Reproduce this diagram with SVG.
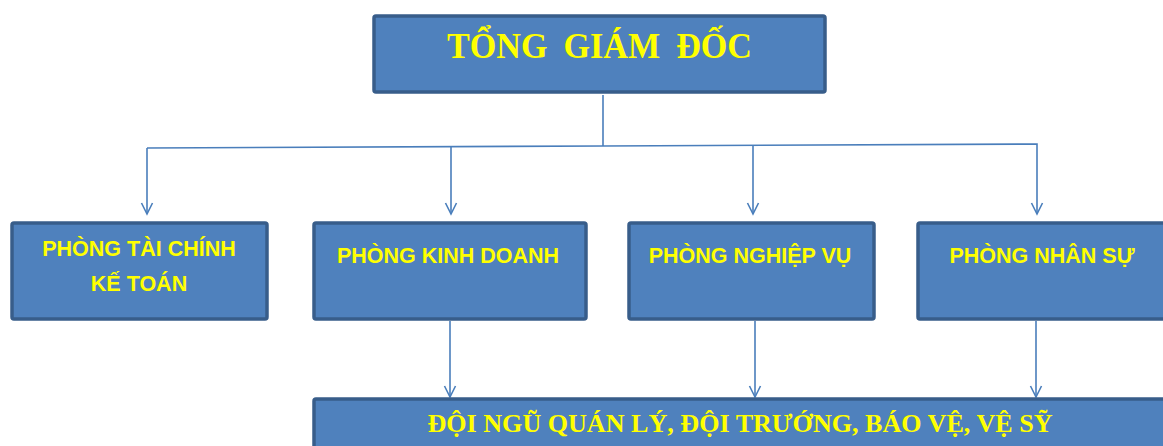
<svg xmlns="http://www.w3.org/2000/svg" width="1163" height="446" viewBox="0 0 1163 446">
<defs>
<style>
.box{fill:#4f81bd;stroke:#385d8a;stroke-width:3.5}
.lbl{fill:#ffff00;font-family:"Liberation Sans",Arial,sans-serif;font-weight:bold;font-size:21.5px;text-anchor:middle}
.ttl{fill:#ffff00;font-family:"Liberation Serif","Times New Roman",serif;font-weight:bold;text-anchor:middle}
.conn{fill:none;stroke:#4a7ebb;stroke-width:1.6}
</style>
<marker id="arr" markerWidth="14" markerHeight="14" refX="12" refY="7" orient="auto" markerUnits="userSpaceOnUse">
<path d="M1,1.5 L12,7 L1,12.5" fill="none" stroke="#4a7ebb" stroke-width="1.6"/>
</marker>
</defs>
<rect width="1163" height="446" fill="#ffffff"/>
<g id="connectors">
<line class="conn" x1="603" y1="95" x2="603" y2="146"/>
<polyline class="conn" points="147,148 603,146 1037,144 1037,214" marker-end="url(#arr)"/>
<line class="conn" x1="147" y1="148" x2="147" y2="214" marker-end="url(#arr)"/>
<line class="conn" x1="451" y1="147" x2="451" y2="214" marker-end="url(#arr)"/>
<line class="conn" x1="753" y1="146" x2="753" y2="214" marker-end="url(#arr)"/>
<line class="conn" x1="450" y1="321" x2="450" y2="397" marker-end="url(#arr)"/>
<line class="conn" x1="755" y1="321" x2="755" y2="397" marker-end="url(#arr)"/>
<line class="conn" x1="1036" y1="321" x2="1036" y2="397" marker-end="url(#arr)"/>
</g>
<g id="node-tgd">
<rect class="box" x="374" y="16" width="451" height="76" rx="2"/>
<text class="ttl" x="599.5" y="58" font-size="36" word-spacing="8" textLength="305" lengthAdjust="spacingAndGlyphs">TỔNG GIÁM ĐỐC</text>
</g>
<g id="node-taichinh">
<rect class="box" x="12" y="223" width="255" height="96" rx="2"/>
<text class="lbl" x="139" y="256">PHÒNG TÀI CHÍNH</text>
<text class="lbl" x="139" y="291">KẾ TOÁN</text>
</g>
<g id="node-kinhdoanh">
<rect class="box" x="314" y="223" width="272" height="96" rx="2"/>
<text class="lbl" x="448" y="263">PHÒNG KINH DOANH</text>
</g>
<g id="node-nghiepvu">
<rect class="box" x="629" y="223" width="245" height="96" rx="2"/>
<text class="lbl" x="750" y="263">PHÒNG NGHIỆP VỤ</text>
</g>
<g id="node-nhansu">
<rect class="box" x="918" y="223" width="250" height="96" rx="2"/>
<text class="lbl" x="1042" y="263">PHÒNG NHÂN SỰ</text>
</g>
<g id="node-doingu">
<rect class="box" x="314" y="399" width="860" height="60" rx="2"/>
<text class="ttl" x="740" y="432" font-size="25" textLength="625" lengthAdjust="spacingAndGlyphs">ĐỘI NGŨ QUÁN LÝ, ĐỘI TRƯỚNG, BÁO VỆ, VỆ SỸ</text>
</g>
</svg>
